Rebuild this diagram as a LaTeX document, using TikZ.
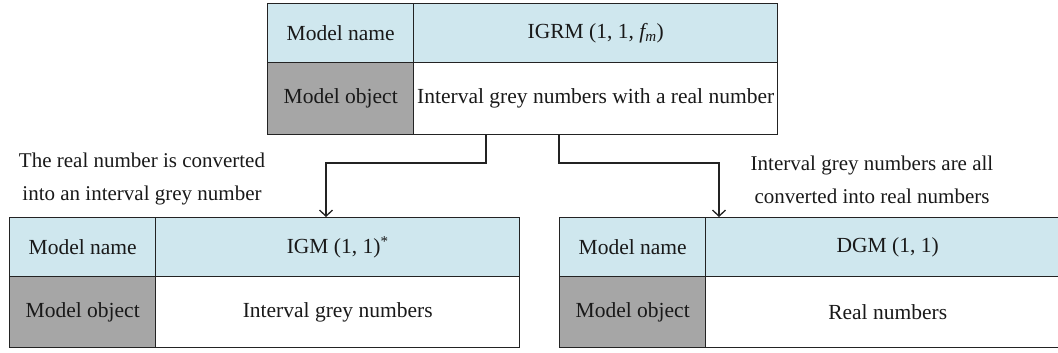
\documentclass[tikz,border=0pt]{standalone}
\usepackage{fontspec}
\setmainfont{Liberation Serif}
\usetikzlibrary{arrows.meta}
\definecolor{namefill}{RGB}{207,231,238}
\definecolor{objfill}{RGB}{166,166,166}
\definecolor{edge}{RGB}{35,35,35}
\definecolor{ink}{RGB}{25,25,25}
\begin{document}
\begin{tikzpicture}[x=1pt,y=-1pt,
  every node/.style={text=ink, font=\fontsize{21.5}{24}\selectfont},
  cell/.style={draw=edge, line width=1.4pt, inner sep=0pt, anchor=north west},
  namecell/.style={cell, fill=namefill, minimum height=59pt},
  objcell/.style={cell, minimum height=71pt},
  headcell/.style={minimum width=146pt},
  conn/.style={draw=edge, line width=1.3pt},
  arr/.style={conn, -{Straight Barb[length=6pt,width=13pt]}},
  note/.style={align=center, font=\fontsize{21}{33}\selectfont}
]
\useasboundingbox (0,0) rectangle (1058,353);

% upper model
\node[namecell, headcell] (tnl) at (267,3) {Model name};
\node[namecell, minimum width=364pt] (tnv) at (413,3) {IGRM (1, 1, {\itshape f}\textsubscript{\itshape m})};
\node[objcell, headcell, fill=objfill, minimum height=72pt] (tol) at (267,62) {Model object};
\node[objcell, minimum width=364pt, minimum height=72pt] (tov) at (413,62) {Interval grey numbers with a real number};

% lower left model
\node[namecell, headcell] (lnl) at (9,217) {Model name};
\node[namecell, minimum width=364pt] (lnv) at (155,217) {IGM (1, 1)\textsuperscript{*}};
\node[objcell, headcell, fill=objfill] (lol) at (9,276) {Model object};
\node[objcell, minimum width=364pt] (lov) at (155,276) {Interval grey numbers};

% lower right model
\node[namecell, headcell] (rnl) at (559,217) {Model name};
\node[namecell, minimum width=364pt] (rnv) at (705,217) {DGM (1, 1)};
\node[objcell, headcell, fill=objfill] (rol) at (559,276) {Model object};
\node[objcell, minimum width=364pt] (rov) at (705,276) {Real numbers};

% transformation notes
\node[note] (noteL) at (142,179) {The real number is converted\\into an interval grey number};
\node[note] (noteR) at (872,180) {Interval grey numbers are all\\converted into real numbers};

% connectors
\coordinate (sL) at (486,0);
\coordinate (jL) at (326,163);
\coordinate (sR) at (559,0);
\coordinate (jR) at (719,163);
\draw[arr] (tov.south -| sL) |- (jL) -- (lnv.north -| jL);
\draw[arr] (tov.south -| sR) |- (jR) -- (rnl.north -| jR);
\end{tikzpicture}
\end{document}
